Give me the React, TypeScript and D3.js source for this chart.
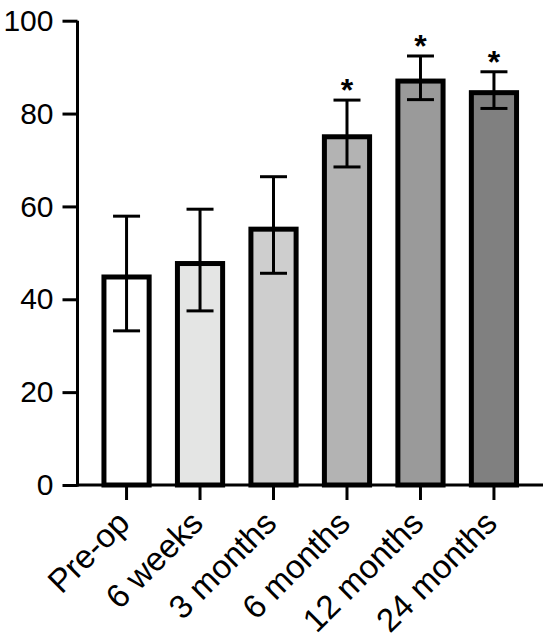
import React, { useEffect, useRef } from 'react'
import * as d3 from 'd3'

const categories = ['Pre-op', '6 weeks', '3 months', '6 months', '12 months', '24 months']
const means = [44.8, 47.7, 55.1, 75.0, 87.0, 84.5]
const upper = [57.9, 59.4, 66.4, 82.9, 92.4, 89.0]
const lower = [33.2, 37.5, 45.6, 68.5, 83.0, 81.1]
const significant = [false, false, false, true, true, true]
const fills = ['#ffffff', '#e4e5e4', '#cecece', '#b3b3b3', '#9a9a9a', '#808080']
const yTicks = [0, 20, 40, 60, 80, 100]

const width = 550
const height = 642
const font = '"Liberation Sans", Arial, Helvetica, sans-serif'

const BarChart: React.FC = () => {
    const svgRef = useRef<SVGSVGElement | null>(null)

    useEffect(() => {
        const svg = d3.select(svgRef.current)
        svg.selectAll('*').remove()

        const x = d3
            .scaleBand<string>()
            .domain(categories)
            .range([77.5, 543])
            .paddingInner(0.385)
            .paddingOuter(0.36)

        const y = d3.scaleLinear().domain([0, 100]).range([485, 20.7])

        const rows = categories.map((c, i) => ({
            c,
            mean: means[i],
            hi: upper[i],
            lo: lower[i],
            star: significant[i],
            fill: fills[i],
        }))

        // bars
        svg.append('g')
            .selectAll('rect')
            .data(rows)
            .join('rect')
            .attr('x', (d) => x(d.c)!)
            .attr('y', (d) => y(d.mean))
            .attr('width', x.bandwidth())
            .attr('height', (d) => y(0) - y(d.mean))
            .attr('fill', (d) => d.fill)
            .attr('stroke', '#000')
            .attr('stroke-width', 5)

        // error bars, drawn over the bars
        const err = svg.append('g').attr('stroke', '#000').attr('stroke-width', 3)
        const cx = (c: string) => x(c)! + x.bandwidth() / 2
        err.selectAll('line.v')
            .data(rows)
            .join('line')
            .attr('class', 'v')
            .attr('x1', (d) => cx(d.c))
            .attr('x2', (d) => cx(d.c))
            .attr('y1', (d) => y(d.lo))
            .attr('y2', (d) => y(d.hi))
        err.selectAll('line.hi')
            .data(rows)
            .join('line')
            .attr('class', 'hi')
            .attr('x1', (d) => cx(d.c) - 13.5)
            .attr('x2', (d) => cx(d.c) + 13.5)
            .attr('y1', (d) => y(d.hi))
            .attr('y2', (d) => y(d.hi))
        err.selectAll('line.lo')
            .data(rows)
            .join('line')
            .attr('class', 'lo')
            .attr('x1', (d) => cx(d.c) - 13.5)
            .attr('x2', (d) => cx(d.c) + 13.5)
            .attr('y1', (d) => y(d.lo))
            .attr('y2', (d) => y(d.lo))

        // significance stars
        svg.append('g')
            .selectAll('text')
            .data(rows.filter((d) => d.star))
            .join('text')
            .attr('x', (d) => cx(d.c))
            .attr('y', (d) => y(d.hi) + 1)
            .attr('text-anchor', 'middle')
            .attr('font-family', font)
            .attr('font-size', 32)
            .attr('font-weight', 'bold')
            .attr('fill', '#000')
            .text('*')

        // y axis
        const yAxis = svg
            .append('g')
            .attr('transform', 'translate(77.5,0)')
            .call(d3.axisLeft(y).tickValues(yTicks).tickSize(15).tickPadding(9))
        yAxis.select('.domain').attr('d', `M0,${y(100)}V${y(0) + 1.5}`).attr('stroke-width', 3)
        yAxis.selectAll('.tick line').attr('stroke-width', 3)
        yAxis.selectAll('.tick text')
            .attr('font-family', font)
            .attr('font-size', 30)
            .attr('fill', '#000')

        // x axis
        const xAxis = svg
            .append('g')
            .attr('transform', `translate(0,${y(0)})`)
            .call(d3.axisBottom(x).tickSize(15).tickSizeOuter(0))
        xAxis.select('.domain').attr('d', 'M76,0H543').attr('stroke-width', 3)
        xAxis.selectAll('.tick line').attr('stroke-width', 3)
        xAxis.selectAll('.tick text')
            .attr('font-family', font)
            .attr('font-size', 33)
            .attr('fill', '#000')
            .attr('text-anchor', 'end')
            .attr('dy', null)
            .attr('y', null)
            .attr('transform', 'translate(5,40) rotate(-45)')
    }, [])

    return (
        <svg
            ref={svgRef}
            width={width}
            height={height}
            style={{ position: 'absolute', left: 0, top: 0, background: '#fff' }}
        />
    )
}

export default function App() {
    return <BarChart />
}
